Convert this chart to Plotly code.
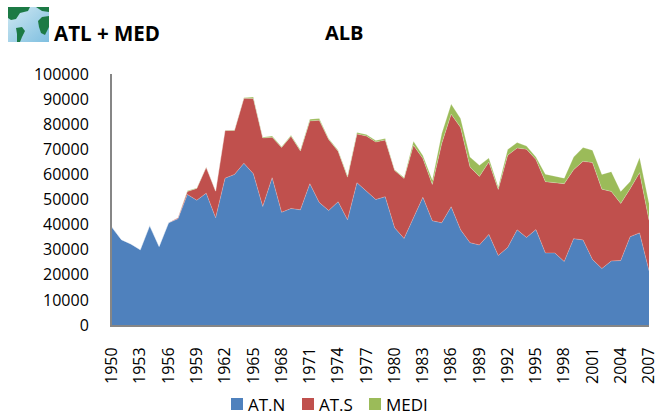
import base64
import plotly.graph_objects as go

years = list(range(1950, 2008))
at_n = [38900, 34000, 32300, 30000, 39600, 31300, 40700, 42300, 52000, 49700,
        52500, 42700, 58500, 60000, 64400, 60300, 47200, 58700, 44900, 46400,
        45900, 56300, 48800, 45600, 49100, 41900, 56700, 53300, 50000, 51100,
        38700, 34500, 42700, 50900, 41500, 40700, 47100, 37900, 32800, 31900,
        36100, 27700, 30900, 37900, 34900, 38000, 28700, 28700, 25300, 34400,
        33900, 26100, 22500, 25500, 25700, 35200, 36700, 21600]
at_s_top = [38900, 34000, 32300, 30000, 39600, 31300, 40700, 42700, 53200, 54400,
            62800, 53300, 77500, 77500, 90300, 90200, 74500, 74800, 70700, 75200,
            69300, 81300, 81600, 73900, 69200, 58900, 76100, 75300, 72900, 73700,
            61600, 58400, 71600, 66300, 56000, 72300, 84000, 78700, 62900, 59200,
            64900, 54000, 67600, 70500, 70000, 65900, 57100, 56700, 56300, 61900,
            65200, 64700, 54100, 53200, 48400, 54300, 60700, 41700]
total_top = [38900, 34000, 32300, 30000, 39600, 31300, 40700, 42700, 53500, 54600,
             62900, 53400, 77600, 77700, 90500, 90800, 74800, 75300, 71000, 75600,
             69800, 82000, 82300, 74300, 69600, 59500, 76700, 75900, 73500, 74300,
             61900, 58800, 73200, 67500, 57800, 76300, 88000, 82300, 66900, 63600,
             66500, 55000, 69900, 72700, 71300, 66900, 60100, 59300, 58500, 66900,
             70700, 69600, 60000, 61100, 53200, 57200, 66700, 48500]
at_s = [t - n for t, n in zip(at_s_top, at_n)]
medi = [t - s for t, s in zip(total_top, at_s_top)]
tick_years = years[::3]
y_ticks = list(range(0, 100001, 10000))

series = [("AT.N", at_n, "#4F81BD"), ("AT.S", at_s, "#C0504D"), ("MEDI", medi, "#9BBB59")]
legend_left = [231, 302, 369]
FONT = "'Open Sans', Carlito, Calibri, sans-serif"

fig = go.Figure()
for name, vals, col in series:
    fig.add_trace(go.Scatter(x=years, y=vals, name=name, stackgroup="one", mode="lines",
                             line=dict(width=0.5, color="rgba(255,255,255,0.45)"),
                             fillcolor=col, showlegend=False))

svg = """<svg xmlns='http://www.w3.org/2000/svg' width='41' height='35' viewBox='0 0 41 35'>
<defs><filter id='b'><feGaussianBlur stdDeviation='0.7'/></filter>
<linearGradient id='g' x1='0' y1='0' x2='1' y2='1'><stop offset='0' stop-color='#cfe8f2'/><stop offset='1' stop-color='#7fbfe0'/></linearGradient></defs>
<rect width='41' height='35' fill='url(#g)'/>
<g fill='#1f7a45' filter='url(#b)'>
<path d='M0 0H22L20 4 12 6 8 12 3 13 0 11Z'/>
<path d='M28 0H41V5L34 4Z'/>
<path d='M30 14 34 10 41 9V20L37 28 33 26 31 20Z'/>
<path d='M8 21 14 20 17 24 14 30 12 35 9 35 9 27Z'/>
</g></svg>"""
icon = "data:image/svg+xml;base64," + base64.b64encode(svg.encode()).decode()

W, H = 658, 416
L, R, T, B = 112, 9, 74, 91
PW, PH = W - L - R, H - T - B


def px(x):
    return (x - L) / PW


def py(y):
    return 1 - (y - T) / PH


annotations = [
    dict(text="<b>ATL + MED</b>", xref="paper", yref="paper", x=px(51.5), y=py(33),
         xanchor="left", yanchor="middle", showarrow=False, font=dict(size=20.5)),
    dict(text="<b>ALB</b>", xref="paper", yref="paper", x=px(322.5), y=py(33),
         xanchor="left", yanchor="middle", showarrow=False, font=dict(size=20)),
]
shapes = []
for (name, _, col), left in zip(series, legend_left):
    shapes.append(dict(type="rect", xref="paper", yref="paper", x0=px(left), x1=px(left + 12),
                       y0=py(410), y1=py(398), fillcolor=col, line=dict(width=0)))
    annotations.append(dict(text=name, xref="paper", yref="paper", x=px(left + 15), y=py(404),
                            xanchor="left", yanchor="middle", showarrow=False, font=dict(size=17)))

fig.update_layout(
    width=W, height=H, autosize=False, showlegend=False,
    margin=dict(l=L, r=R, t=T, b=B, autoexpand=False),
    paper_bgcolor="white", plot_bgcolor="white",
    font=dict(family=FONT, size=16, color="#000000"),
    xaxis=dict(range=[1950, 2007], tickmode="array", tickvals=tick_years,
               ticktext=[str(v) for v in tick_years], tickangle=-90, ticklabeloverflow="allow",
               tickfont=dict(size=16), ticklen=14, tickcolor="rgba(0,0,0,0)", ticks="outside",
               showline=True, linecolor="#868686", linewidth=2, showgrid=False, zeroline=False),
    yaxis=dict(range=[0, 100000], tickmode="array", tickvals=y_ticks,
               ticktext=[str(v) for v in y_ticks], tickfont=dict(size=16),
               ticklen=18, tickcolor="rgba(0,0,0,0)", ticks="outside",
               showline=True, linecolor="#868686", linewidth=2, showgrid=False, zeroline=False),
    annotations=annotations,
    shapes=shapes,
    images=[dict(source=icon, xref="paper", yref="paper", x=px(8), y=py(7), sizex=41 / PW, sizey=35 / PH,
                 xanchor="left", yanchor="top", sizing="stretch", layer="above")],
)
fig.write_html("out.html", config=dict(displayModeBar=False),
               post_script="document.body.style.margin='0';document.body.style.overflow='hidden';")
